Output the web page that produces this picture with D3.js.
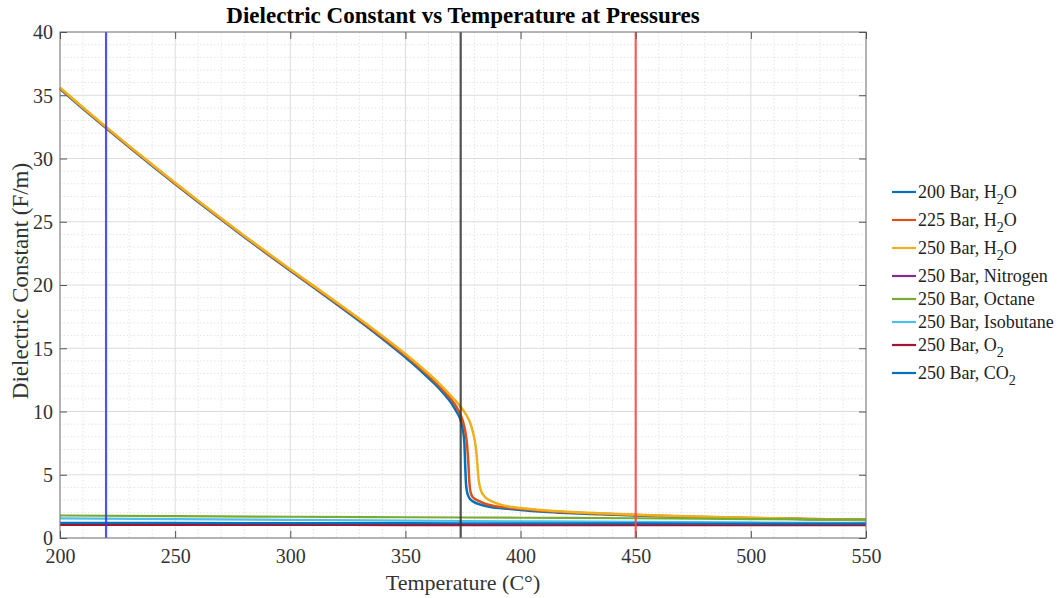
<!DOCTYPE html>
<html><head><meta charset="utf-8">
<script src="https://cdn.jsdelivr.net/npm/d3@7"></script>
<style>body{margin:0;background:#fff}svg{display:block}</style>
</head><body><svg id="c" width="1063" height="598"></svg>
<script>
// ---- data ----
const xTicks = [200, 250, 300, 350, 400, 450, 500, 550];
const yTicks = [0, 5, 10, 15, 20, 25, 30, 35, 40];

const tH2O200 = [200, 210, 220, 230, 240, 250, 260, 270, 280, 290, 300, 310, 320, 330, 340, 350, 355, 360, 365, 370, 372, 374, 375, 375.6, 376, 376.3, 376.7, 377.5, 378.5, 380, 382.4, 387, 395.4, 400, 410, 420, 435, 450, 475, 500, 525, 550];
const eH2O200 = [35.5, 33.93, 32.4, 30.9, 29.43, 27.98, 26.56, 25.17, 23.8, 22.45, 21.12, 19.82, 18.5, 17.15, 15.75, 14.28, 13.5, 12.65, 11.75, 10.65, 10.05, 9.3, 8.5, 7.5, 5.5, 4.3, 3.7, 3.25, 3.0, 2.82, 2.65, 2.45, 2.3, 2.22, 2.08, 1.98, 1.87, 1.78, 1.65, 1.56, 1.49, 1.43];

const tH2O225 = [200, 210, 220, 230, 240, 250, 260, 270, 280, 290, 300, 310, 320, 330, 340, 350, 355, 360, 365, 370, 372, 374, 375, 376, 376.8, 377.3, 377.7, 378.1, 378.8, 380, 381.5, 384, 388, 395.4, 400, 410, 420, 435, 450, 475, 500, 525, 550];
const eH2O225 = [35.55, 33.98, 32.45, 30.95, 29.48, 28.03, 26.61, 25.22, 23.85, 22.5, 21.18, 19.88, 18.57, 17.24, 15.86, 14.42, 13.65, 12.83, 11.95, 10.92, 10.4, 9.7, 9.2, 8.4, 7.3, 6.0, 4.6, 3.8, 3.35, 3.1, 2.95, 2.75, 2.55, 2.38, 2.3, 2.14, 2.03, 1.91, 1.81, 1.68, 1.58, 1.5, 1.44];

const tH2O250 = [200, 210, 220, 230, 240, 250, 260, 270, 280, 290, 300, 310, 320, 330, 340, 350, 355, 360, 365, 370, 372, 374, 376, 378, 379, 380.2, 380.9, 381.4, 381.8, 382.4, 383.8, 385.5, 388, 392, 396, 400, 410, 420, 435, 450, 475, 500, 525, 550];
const eH2O250 = [35.6, 34.03, 32.5, 31.0, 29.53, 28.08, 26.66, 25.27, 23.9, 22.56, 21.24, 19.95, 18.65, 17.33, 15.97, 14.55, 13.8, 13.0, 12.15, 11.2, 10.8, 10.35, 9.85, 9.15, 8.6, 7.6, 6.6, 5.4, 4.6, 4.0, 3.4, 3.1, 2.85, 2.6, 2.45, 2.37, 2.2, 2.08, 1.95, 1.84, 1.7, 1.6, 1.51, 1.45];

const tGas = [200, 250, 300, 350, 400, 450, 500, 550];
const eNitrogen  = [1.04, 1.04, 1.035, 1.035, 1.03, 1.03, 1.03, 1.03];
const eOctane    = [1.78, 1.73, 1.68, 1.64, 1.6, 1.56, 1.5, 1.45];
const eIsobutane = [1.55, 1.49, 1.43, 1.37, 1.32, 1.27, 1.23, 1.2];
const eO2        = [1.03, 1.03, 1.03, 1.025, 1.025, 1.02, 1.02, 1.02];
const eCO2       = [1.2, 1.19, 1.18, 1.17, 1.16, 1.15, 1.14, 1.13];

const seriesNames = ["200 Bar, H|2|O", "225 Bar, H|2|O", "250 Bar, H|2|O", "250 Bar, Nitrogen", "250 Bar, Octane", "250 Bar, Isobutane", "250 Bar, O|2|", "250 Bar, CO|2|"];
const seriesColors = ["#0072BD", "#D95319", "#EDB120", "#7E2F8E", "#77AC30", "#4DBEEE", "#A2142F", "#0072BD"];
const seriesT = [tH2O200, tH2O225, tH2O250, tGas, tGas, tGas, tGas, tGas];
const seriesE = [eH2O200, eH2O225, eH2O250, eNitrogen, eOctane, eIsobutane, eO2, eCO2];

const vLines = [220, 374, 450];
const vColors = ["#3333ff", "#333333", "#ff4444"];

// ---- drawing ----
const svg = d3.select("#c");
const font = "'Liberation Serif','Times New Roman',serif";
const L = 60, R = 866, T = 32, B = 538;
const x = d3.scaleLinear().domain([200, 550]).range([L, R]);
const y = d3.scaleLinear().domain([0, 40]).range([B, T]);

svg.append("rect").attr("x", L).attr("y", T).attr("width", R - L).attr("height", B - T).attr("fill", "#fff");

const grid = svg.append("g");
d3.range(200, 551, 10).filter(v => v % 50 !== 0).forEach(v => {
  grid.append("line").attr("x1", x(v)).attr("x2", x(v)).attr("y1", T).attr("y2", B)
    .attr("stroke", "#e4e4e4").attr("stroke-width", 1).attr("stroke-dasharray", "1.5,2");
});
d3.range(0, 41, 1).filter(v => v % 5 !== 0).forEach(v => {
  grid.append("line").attr("y1", y(v)).attr("y2", y(v)).attr("x1", L).attr("x2", R)
    .attr("stroke", "#e4e4e4").attr("stroke-width", 1).attr("stroke-dasharray", "1.5,2");
});
xTicks.forEach(v => grid.append("line").attr("x1", x(v)).attr("x2", x(v)).attr("y1", T).attr("y2", B)
  .attr("stroke", "#dcdcdc").attr("stroke-width", 1));
yTicks.forEach(v => grid.append("line").attr("y1", y(v)).attr("y2", y(v)).attr("x1", L).attr("x2", R)
  .attr("stroke", "#dcdcdc").attr("stroke-width", 1));

// series
const line = d3.line().curve(d3.curveMonotoneX);
const lines = svg.append("g").attr("fill", "none");
seriesE.forEach((vals, i) => {
  const pts = vals.map((v, k) => [x(seriesT[i][k]), y(v)]);
  lines.append("path").attr("d", line(pts)).attr("stroke", seriesColors[i])
    .attr("stroke-width", i < 3 ? 2.5 : 2.2).attr("stroke-linejoin", "round");
});

// vertical markers
vLines.forEach((v, i) => {
  svg.append("line").attr("x1", x(v)).attr("x2", x(v)).attr("y1", T).attr("y2", B)
    .attr("stroke", vColors[i]).attr("stroke-width", 2.2).attr("opacity", 0.85);
});

// axes box
svg.append("rect").attr("x", L).attr("y", T).attr("width", R - L).attr("height", B - T)
  .attr("fill", "none").attr("stroke", "#7a7a7a").attr("stroke-width", 1);

const gxb = svg.append("g").attr("transform", `translate(0,${B})`)
  .call(d3.axisBottom(x).tickValues(xTicks).tickSize(-7).tickFormat(d3.format("d")));
const gxt = svg.append("g").attr("transform", `translate(0,${T})`)
  .call(d3.axisTop(x).tickValues(xTicks).tickSize(-7).tickFormat(""));
const gyl = svg.append("g").attr("transform", `translate(${L},0)`)
  .call(d3.axisLeft(y).tickValues(yTicks).tickSize(-7).tickFormat(d3.format("d")));
const gyr = svg.append("g").attr("transform", `translate(${R},0)`)
  .call(d3.axisRight(y).tickValues(yTicks).tickSize(-7).tickFormat(""));
[gxb, gxt, gyl, gyr].forEach(g => {
  g.select(".domain").remove();
  g.selectAll(".tick line").attr("stroke", "#555");
  g.selectAll(".tick text").attr("fill", "#333").attr("font-family", font).attr("font-size", 20);
});
gxb.selectAll(".tick text").attr("y", 11).attr("dy", "0.71em");
gyl.selectAll(".tick text").attr("x", -7).attr("dy", "0.34em");

// title & labels
svg.append("text").attr("x", (L + R) / 2).attr("y", 23).attr("text-anchor", "middle")
  .attr("font-family", font).attr("font-weight", "bold").attr("font-size", 23).attr("fill", "#000")
  .text("Dielectric Constant vs Temperature at Pressures");
svg.append("text").attr("x", (L + R) / 2).attr("y", 590).attr("text-anchor", "middle")
  .attr("font-family", font).attr("font-size", 22).attr("fill", "#333")
  .text("Temperature (C°)");
svg.append("text").attr("transform", `translate(28,281) rotate(-90)`).attr("text-anchor", "middle")
  .attr("font-family", font).attr("font-size", 23).attr("fill", "#333")
  .text("Dielectric Constant (F/m)");

// legend
const leg = svg.append("g");
let ly = 192;
seriesNames.forEach((name, i) => {
  const hasSub = name.includes("|");
  leg.append("line").attr("x1", 892).attr("x2", 916).attr("y1", ly).attr("y2", ly)
    .attr("stroke", seriesColors[i]).attr("stroke-width", 2.2);
  const t = leg.append("text").attr("x", 918).attr("y", ly + 6)
    .attr("font-family", font).attr("font-size", 18).attr("fill", "#222");
  const parts = name.split("|");
  t.append("tspan").text(parts[0]);
  if (hasSub) {
    t.append("tspan").attr("dy", 6).attr("font-size", 14).text(parts[1]);
    if (parts[2]) t.append("tspan").attr("dy", -6).text(parts[2]);
  }
  ly += hasSub ? 28 : 23;
});
</script></body></html>
